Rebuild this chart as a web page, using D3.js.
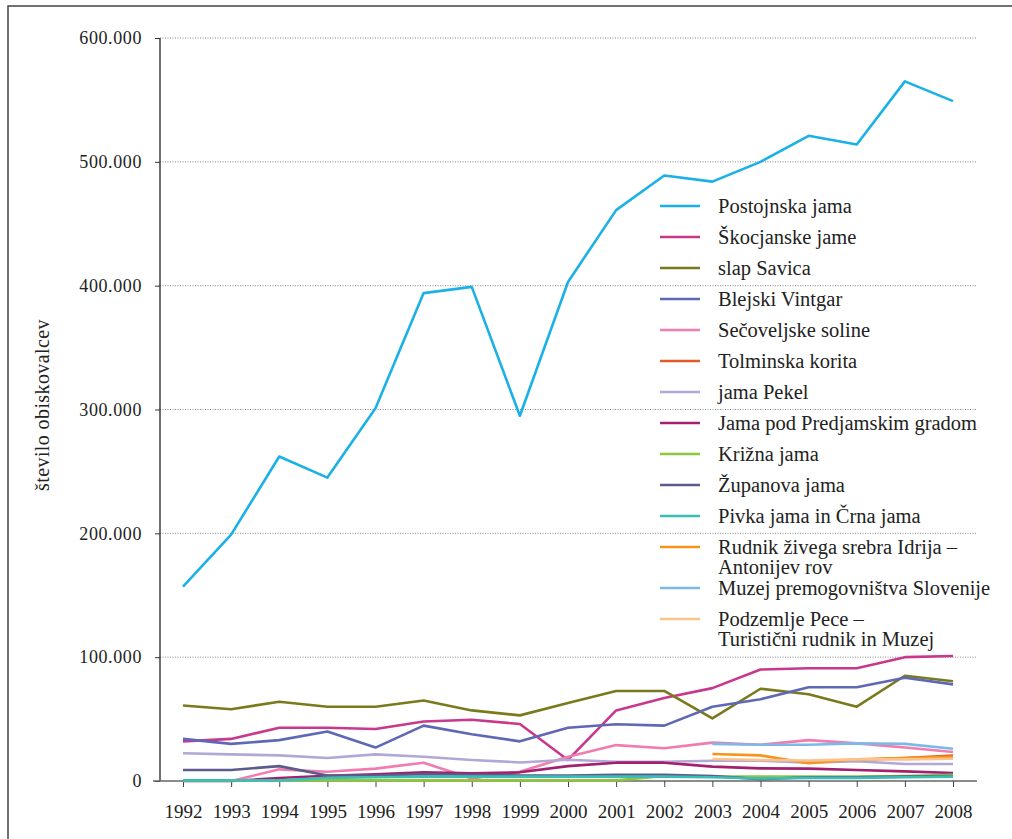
<!DOCTYPE html>
<html><head><meta charset="utf-8">
<script src="https://cdn.jsdelivr.net/npm/d3@7"></script>
<style>body{margin:0;background:#fff}svg{display:block}</style>
</head><body>
<script>
const years = [1992,1993,1994,1995,1996,1997,1998,1999,2000,2001,2002,2003,2004,2005,2006,2007,2008];
const yTicks = [0,100000,200000,300000,400000,500000,600000];
const seriesNames = ["Postojnska jama","Škocjanske jame","slap Savica","Blejski Vintgar","Sečoveljske soline","Tolminska korita","jama Pekel","Jama pod Predjamskim gradom","Križna jama","Županova jama","Pivka jama in Črna jama","Rudnik živega srebra Idrija – Antonijev rov","Muzej premogovništva Slovenije","Podzemlje Pece – Turistični rudnik in Muzej"];
const legendLines = [["Postojnska jama"],["Škocjanske jame"],["slap Savica"],["Blejski Vintgar"],["Sečoveljske soline"],["Tolminska korita"],["jama Pekel"],["Jama pod Predjamskim gradom"],["Križna jama"],["Županova jama"],["Pivka jama in Črna jama"],["Rudnik živega srebra Idrija –","Antonijev rov"],["Muzej premogovništva Slovenije"],["Podzemlje Pece –","Turistični rudnik in Muzej"]];
const colors = ["#1bb1e7","#c8388c","#7a7a1c","#5e68b4","#f07cb0","#e05a24","#b1a8d6","#a3206e","#8dc63f","#5b5b8c","#3bbfb5","#f7941d","#7cb9e8","#fdc18c"];

const postojnska   = [157000,199000,262000,245000,301000,394000,399000,295000,403000,461000,489000,484000,500000,521000,514000,565000,549000];
const skocjanske   = [32000,34000,43000,43000,42000,48000,49500,46000,17000,57000,67000,75000,90000,91000,91000,100000,101000];
const savica       = [61000,58000,64000,60000,60000,65000,57000,53000,63000,72700,72700,50600,74500,70000,60000,85000,80500];
const blejski      = [34000,30000,33000,40000,27000,44700,37700,32000,43000,45800,44700,60000,66000,75700,75700,83400,78000];
const secoveljske  = [null,0,9400,7500,10000,14800,2000,7500,19600,29000,26400,31000,29300,33000,30400,27000,23400];
const tolminska    = [null,null,null,null,null,null,null,null,null,null,null,null,null,null,17000,18500,20500];
const pekel        = [22400,21500,20700,18600,21500,19600,17000,15000,17200,15600,15600,16400,16400,14800,15900,13700,13700];
const predjamski   = [0,0,2400,4300,5400,7000,6200,7000,12000,14800,14800,11600,10200,10000,8900,7800,6500];
const krizna       = [500,500,500,500,500,500,500,500,500,500,4000,3500,3500,3500,3500,4000,5000];
const zupanova     = [8900,8900,12000,4500,4500,5500,5000,4500,4500,5000,5000,4000,1500,3000,3000,3500,4000];
const pivka        = [500,500,500,2500,3000,3500,3500,3500,3500,3500,3500,3000,2000,2500,2500,3000,3500];
const rudnik       = [null,null,null,null,null,null,null,null,null,null,null,21800,20700,14300,17500,18600,19500];
const muzej        = [null,null,null,null,null,null,null,null,null,null,null,30000,29300,29300,30400,30000,26000];
const podzemlje    = [null,null,null,null,null,null,null,null,null,null,null,17800,17000,16500,17500,17500,18000];
const seriesValues = [postojnska,skocjanske,savica,blejski,secoveljske,tolminska,pekel,predjamski,krizna,zupanova,pivka,rudnik,muzej,podzemlje];

const W = 1012, H = 839;
const svg = d3.select("body").append("svg").attr("width", W).attr("height", H);
const font = "'Liberation Serif', 'DejaVu Serif', serif";

svg.append("rect").attr("x", 8).attr("y", 6).attr("width", 1100).attr("height", 900)
  .attr("fill", "none").attr("stroke", "#444").attr("stroke-width", 1.5);

const x = d3.scalePoint().domain(years).range([183, 953]);
const y = d3.scaleLinear().domain([0, 600000]).range([781, 38]);
const loc = d3.formatLocale({decimal: ",", thousands: ".", grouping: [3], currency: ["", ""]});
const fmt = loc.format(",d");

// gridlines
svg.append("g").selectAll("line").data(yTicks.filter(d => d > 0)).join("line")
  .attr("x1", 160).attr("x2", 976).attr("y1", d => y(d)).attr("y2", d => y(d))
  .attr("stroke", "#8a8a8a").attr("stroke-width", 1).attr("stroke-dasharray", "1,1.5");

// y axis
const yAxis = svg.append("g").attr("transform", "translate(160,0)")
  .call(d3.axisLeft(y).tickValues(yTicks).tickFormat(fmt).tickSize(5).tickPadding(13));
yAxis.select(".domain").attr("stroke", "#222").attr("stroke-width", 1.3).attr("d", `M0,${y(0)}V${y(600000)}`);
yAxis.selectAll(".tick line").attr("stroke", "#333");
yAxis.selectAll("text").attr("font-family", font).attr("font-size", 18).attr("fill", "#222").attr("letter-spacing", "0.6px");

// x axis
const xAxis = svg.append("g").attr("transform", `translate(0,${y(0)})`)
  .call(d3.axisBottom(x).tickSize(6).tickPadding(18));
xAxis.select(".domain").attr("stroke", "#666").attr("stroke-width", 1.5).attr("d", "M153,0H977");
xAxis.selectAll(".tick line").attr("stroke", "#444");
xAxis.selectAll("text").attr("font-family", font).attr("font-size", 19).attr("fill", "#222");

// y title
svg.append("text").attr("transform", "translate(49,405) rotate(-90)")
  .attr("text-anchor", "middle").attr("font-family", font).attr("font-size", 20).attr("fill", "#222")
  .attr("letter-spacing", "0.4px")
  .text("število obiskovalcev");

// lines
const line = d3.line().defined(d => d.v !== null).x(d => x(d.year)).y(d => y(d.v));
seriesValues.forEach((vals, i) => {
  svg.append("path").datum(years.map((yr, j) => ({year: yr, v: vals[j]})))
    .attr("fill", "none").attr("stroke", colors[i]).attr("stroke-width", 2.6)
    .attr("stroke-linejoin", "round").attr("d", line);
});

// legend
const lg = svg.append("g");
let ly = 206;
legendLines.forEach((lines, i) => {
  lg.append("line").attr("x1", 660).attr("x2", 700).attr("y1", ly).attr("y2", ly)
    .attr("stroke", colors[i]).attr("stroke-width", 2.6);
  const t = lg.append("text").attr("x", 718).attr("y", ly)
    .attr("font-family", font).attr("font-size", 20.5).attr("fill", "#222");
  lines.forEach((s, k) => t.append("tspan").attr("x", 718).attr("dy", k === 0 ? "0.35em" : "0.98em").text(s));
  ly += 31 + 10 * (lines.length - 1);
});
</script>
</body></html>
